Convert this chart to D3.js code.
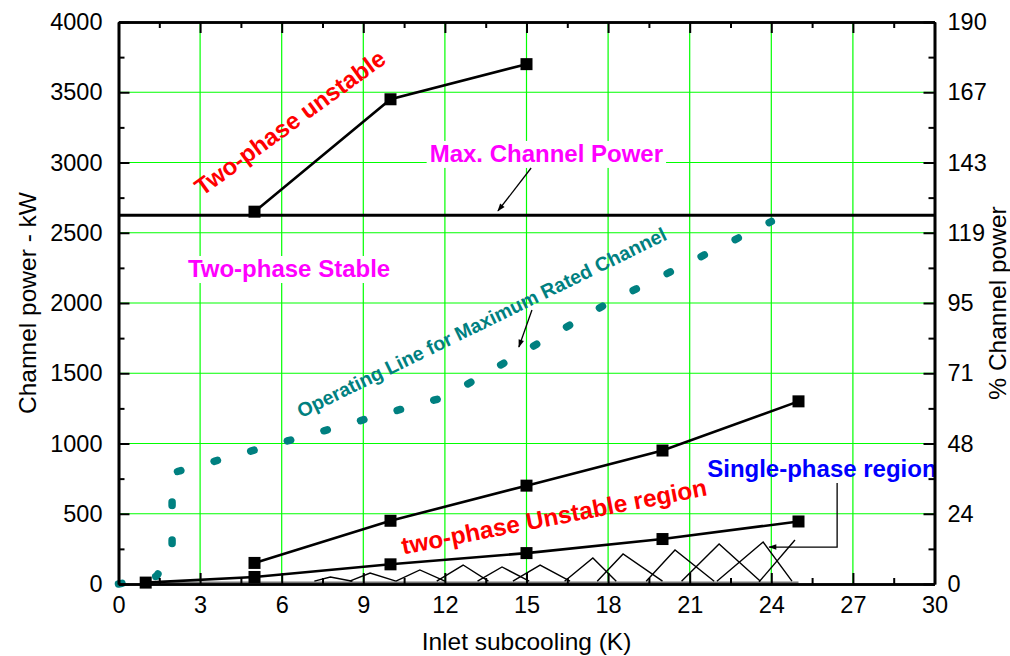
<!DOCTYPE html>
<html>
<head>
<meta charset="utf-8">
<script src="https://cdn.jsdelivr.net/npm/d3@7"></script>
<style>
  html, body { margin: 0; padding: 0; background: #fff; }
  svg { display: block; font-family: "Liberation Sans", Arial, sans-serif; }
</style>
</head>
<body>
<svg id="chart" width="1010" height="656"></svg>
<script>
// ---- data -------------------------------------------------------------
// Upper boundary of the two-phase unstable zone (above max power)
const unstableTopX = [5, 10, 15];
const unstableTopY = [2650, 3450, 3700];

// Upper boundary of the two-phase unstable region
const unstableUpperX = [5, 10, 15, 20, 25];
const unstableUpperY = [150, 450, 700, 950, 1300];

// Lower boundary (single-phase / two-phase transition)
const unstableLowerX = [1, 5, 10, 15, 20, 25];
const unstableLowerY = [10, 50, 140, 220, 320, 445];

// Maximum channel power (kW)
const maxChannelPower = 2625;

// Operating line for the maximum rated channel
const operatingX = [0, 1.4, 1.97, 1.97, 12, 18, 24];
const operatingY = [0, 55, 240, 790, 1330, 2000, 2580];

// Cross-hatch marking the single-phase region: each "^" has a left foot,
// a peak and a right foot
const hatchLeftX  = [7.2, 8.5, 10.2, 11.7, 13.2, 14.5, 16.4, 17.6, 19.4, 20.7, 22.0];
const hatchPeakX  = [7.79, 9.25, 11.08, 12.67, 14.1, 15.5, 17.44, 18.55, 20.46, 22.08, 23.7];
const hatchPeakY  = [50, 78, 100, 135, 121, 135, 185, 214, 242, 285, 299];
const hatchRightX = [8.6, 10.2, 12.0, 13.6, 15.1, 16.6, 18.3, 20.0, 21.9, 23.6, 24.76];
const hatchFootY = 20;
const hatchExtra = [[23.55, 15], [24.87, 313]];

// Axes
const xTicks = [0, 3, 6, 9, 12, 15, 18, 21, 24, 27, 30];
const xMinorTicks = [1.5, 4.5, 7.5, 10.5, 13.5, 16.5, 19.5, 22.5, 25.5, 28.5];
const yTicks = [0, 500, 1000, 1500, 2000, 2500, 3000, 3500, 4000];
const yMinorTicks = [250, 750, 1250, 1750, 2250, 2750, 3250, 3750];
const pctTickLabels = ["0", "24", "48", "71", "95", "119", "143", "167", "190"];

// ---- layout -----------------------------------------------------------
const svg = d3.select("#chart");
const plotLeft = 118.5, plotRight = 934.5, plotTop = 22, plotBottom = 584;
const x = d3.scaleLinear().domain([0, 30]).range([plotLeft, plotRight]);
const y = d3.scaleLinear().domain([0, 4000]).range([plotBottom, plotTop]);
const FONT = '"Liberation Sans", Arial, sans-serif';

// arrow marker
svg.append("defs").append("marker")
  .attr("id", "arrow").attr("viewBox", "0 0 10 10")
  .attr("refX", 9).attr("refY", 5)
  .attr("markerWidth", 10).attr("markerHeight", 8)
  .attr("markerUnits", "userSpaceOnUse")
  .attr("orient", "auto")
  .append("path").attr("d", "M0,1.5 L10,5 L0,8.5 Z").attr("fill", "#000");

// ---- grid -------------------------------------------------------------
const grid = svg.append("g");
xTicks.slice(1, -1).forEach(v => {
  grid.append("line").attr("x1", x(v)).attr("x2", x(v)).attr("y1", plotTop).attr("y2", plotBottom)
    .attr("stroke", "#00ff00").attr("stroke-width", 1.2);
});
yTicks.slice(1, -1).forEach(v => {
  grid.append("line").attr("x1", plotLeft).attr("x2", plotRight).attr("y1", y(v)).attr("y2", y(v))
    .attr("stroke", "#00ff00").attr("stroke-width", 1.2);
});

// ---- labelled boxes that hide the grid -------------------------------
function boxedText(txt, xv, yv, color) {
  const g = svg.append("g");
  const t = g.append("text").attr("x", x(xv)).attr("y", y(yv))
    .attr("text-anchor", "middle").attr("font-size", 24).attr("font-weight", "bold")
    .attr("fill", color).text(txt);
  const b = t.node().getBBox();
  g.insert("rect", "text").attr("x", b.x - 3).attr("y", b.y + 1)
    .attr("width", b.width + 6).attr("height", b.height).attr("fill", "#fff");
  return g;
}

// ---- hatch --------------------------------------------------------------
const hatch = svg.append("g").attr("stroke", "#000").attr("stroke-width", 1.4).attr("fill", "none");
hatch.append("line").attr("x1", x(1)).attr("x2", x(25)).attr("y1", y(12)).attr("y2", y(12))
  .attr("stroke", "#777").attr("stroke-width", 1.5);
hatchPeakX.forEach((px, i) => {
  hatch.append("path").attr("d", d3.line()([
    [x(hatchLeftX[i]), y(hatchFootY)],
    [x(px), y(hatchPeakY[i])],
    [x(hatchRightX[i]), y(hatchFootY)]
  ]));
});
hatch.append("line")
  .attr("x1", x(hatchExtra[0][0])).attr("y1", y(hatchExtra[0][1]))
  .attr("x2", x(hatchExtra[1][0])).attr("y2", y(hatchExtra[1][1]));

// ---- max channel power line ------------------------------------------
svg.append("line").attr("x1", x(0)).attr("x2", x(30))
  .attr("y1", y(maxChannelPower)).attr("y2", y(maxChannelPower))
  .attr("stroke", "#000").attr("stroke-width", 3);

// ---- operating line ----------------------------------------------------
const line = d3.line().x(d => x(d[0])).y(d => y(d[1]));
svg.append("path")
  .attr("d", line(operatingX.map((v, i) => [v, operatingY[i]])))
  .attr("fill", "none").attr("stroke", "#008080").attr("stroke-width", 7.5)
  .attr("stroke-linecap", "round").attr("stroke-dasharray", "3.5 34.5");

// ---- boundary series ---------------------------------------------------
function series(xs, ys) {
  const pts = xs.map((v, i) => [v, ys[i]]);
  svg.append("path").attr("d", line(pts)).attr("fill", "none")
    .attr("stroke", "#000").attr("stroke-width", 2.6);
  svg.append("g").selectAll("rect").data(pts).join("rect")
    .attr("x", d => x(d[0]) - 6).attr("y", d => y(d[1]) - 6)
    .attr("width", 12).attr("height", 12).attr("fill", "#000");
}
series(unstableTopX, unstableTopY);
series(unstableUpperX, unstableUpperY);
series(unstableLowerX, unstableLowerY);

// ---- annotations -------------------------------------------------------
boxedText("Max. Channel Power", 15.73, 3004, "#ff00ff");
boxedText("Two-phase Stable", 6.27, 2185, "#ff00ff");

svg.append("text").attr("transform", `translate(${x(6.3)},${y(3285)}) rotate(-36)`)
  .attr("text-anchor", "middle").attr("dominant-baseline", "central")
  .attr("font-size", 24).attr("font-weight", "bold").attr("fill", "#ff0000")
  .text("Two-phase unstable");

svg.append("text").attr("transform", `translate(${x(13.35)},${y(1862)}) rotate(-26)`)
  .attr("text-anchor", "middle").attr("dominant-baseline", "central")
  .attr("font-size", 19.6).attr("font-weight", "bold").attr("fill", "#008080")
  .text("Operating Line for Maximum Rated Channel");

svg.append("text").attr("transform", `translate(${x(16.01)},${y(480)}) rotate(-11)`)
  .attr("text-anchor", "middle").attr("dominant-baseline", "central")
  .attr("font-size", 24.3).attr("font-weight", "bold").attr("fill", "#ff0000")
  .text("two-phase Unstable region");

svg.append("text").attr("x", x(25.86)).attr("y", y(763))
  .attr("text-anchor", "middle").attr("font-size", 24).attr("font-weight", "bold")
  .attr("fill", "#0000ff").text("Single-phase region");

// arrows
const arrows = svg.append("g").attr("stroke", "#000").attr("stroke-width", 1.3).attr("fill", "none");
arrows.append("path").attr("d", line([[15.17, 2961], [13.95, 2655]])).attr("marker-end", "url(#arrow)");
arrows.append("path").attr("d", line([[15.2, 1950], [14.72, 1687]])).attr("marker-end", "url(#arrow)");
arrows.append("path").attr("d", line([[26.42, 719], [26.42, 263], [23.92, 263]])).attr("marker-end", "url(#arrow)");

// ---- axes ---------------------------------------------------------------
function styleAxis(g, labels) {
  g.select(".domain").attr("stroke", "#000").attr("stroke-width", 2.6);
  g.selectAll(".tick line").attr("stroke", "#000").attr("stroke-width", 2);
  g.selectAll(".tick text").attr("font-family", FONT).attr("font-size", 23.5).attr("fill", "#000");
  if (!labels) g.selectAll(".tick text").remove();
}

// bottom
svg.append("g").attr("transform", `translate(0,${plotBottom})`)
  .call(d3.axisBottom(x).tickValues(xMinorTicks).tickSize(-6).tickSizeOuter(0).tickFormat(""))
  .call(g => styleAxis(g, false));
svg.append("g").attr("transform", `translate(0,${plotBottom})`)
  .call(d3.axisBottom(x).tickValues(xTicks).tickSize(-11).tickSizeOuter(0).tickPadding(12).tickFormat(d3.format("d")))
  .call(g => styleAxis(g, true));
// top
svg.append("g").attr("transform", `translate(0,${plotTop})`)
  .call(d3.axisTop(x).tickValues(xMinorTicks).tickSize(-6).tickSizeOuter(0).tickFormat(""))
  .call(g => styleAxis(g, false));
svg.append("g").attr("transform", `translate(0,${plotTop})`)
  .call(d3.axisTop(x).tickValues(xTicks).tickSize(-11).tickSizeOuter(0).tickFormat(""))
  .call(g => styleAxis(g, false));
// left
svg.append("g").attr("transform", `translate(${plotLeft},0)`)
  .call(d3.axisLeft(y).tickValues(yMinorTicks).tickSize(-6).tickSizeOuter(0).tickFormat(""))
  .call(g => styleAxis(g, false));
svg.append("g").attr("transform", `translate(${plotLeft},0)`)
  .call(d3.axisLeft(y).tickValues(yTicks).tickSize(-11).tickSizeOuter(0).tickPadding(16).tickFormat(d3.format("d")))
  .call(g => styleAxis(g, true));
// right (% of channel power shares the kW tick positions)
svg.append("g").attr("transform", `translate(${plotRight},0)`)
  .call(d3.axisRight(y).tickValues(yMinorTicks).tickSize(-6).tickSizeOuter(0).tickFormat(""))
  .call(g => styleAxis(g, false));
svg.append("g").attr("transform", `translate(${plotRight},0)`)
  .call(d3.axisRight(y).tickValues(yTicks).tickSize(-11).tickSizeOuter(0).tickPadding(13)
    .tickFormat((d, i) => pctTickLabels[i]))
  .call(g => styleAxis(g, true));

// axis titles
svg.append("text").attr("x", (plotLeft + plotRight) / 2).attr("y", 650)
  .attr("text-anchor", "middle").attr("font-size", 24.5).text("Inlet subcooling (K)");
svg.append("text").attr("transform", `translate(27,${(plotTop + plotBottom) / 2}) rotate(-90)`)
  .attr("text-anchor", "middle").attr("dominant-baseline", "central")
  .attr("font-size", 24.5).text("Channel power - kW");
svg.append("text").attr("transform", `translate(997,${(plotTop + plotBottom) / 2}) rotate(-90)`)
  .attr("text-anchor", "middle").attr("dominant-baseline", "central")
  .attr("font-size", 24.5).text("% Channel power");
</script>
</body>
</html>
